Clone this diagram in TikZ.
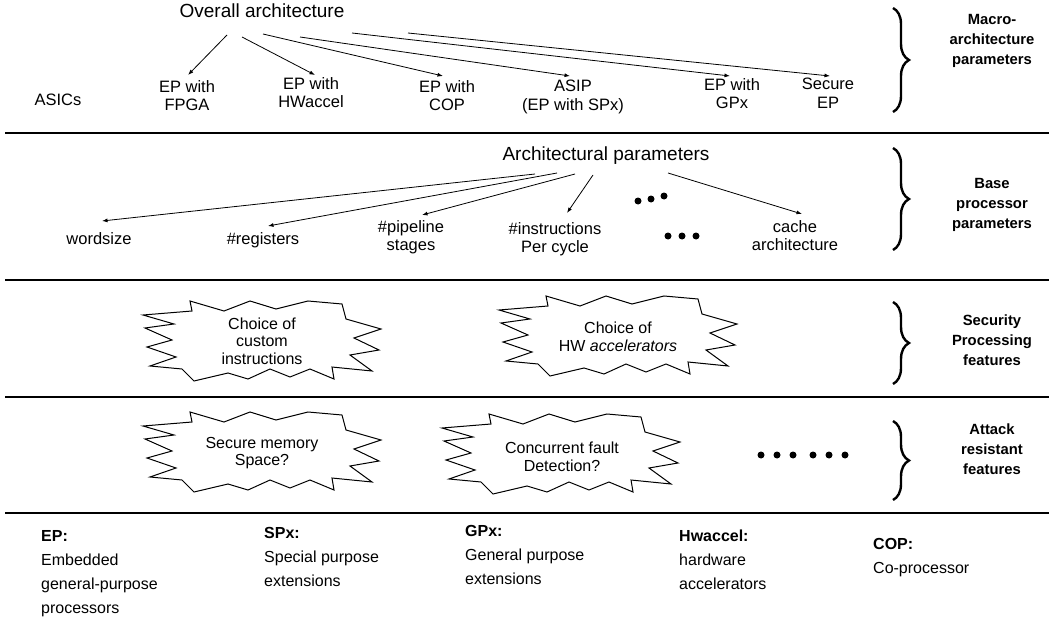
\documentclass[tikz,border=0pt]{standalone}
\usepackage{fontspec}
\setmainfont{Liberation Sans}
\usetikzlibrary{arrows.meta,calc,decorations.pathreplacing}
\begin{document}
\begin{tikzpicture}[x=1pt,y=-1pt,
 txt/.style={inner sep=0pt,align=center,anchor=north,font=\fontsize{16.5}{18.5}\selectfont},
 big/.style={inner sep=0pt,anchor=north,font=\fontsize{19}{22}\selectfont},
 lab/.style={inner sep=0pt,align=center,font=\fontsize{14.8}{20}\selectfont\bfseries},
 sttxt/.style={inner sep=0pt,align=center,font=\fontsize{16}{17.5}\selectfont},
 foot/.style={inner sep=0pt,align=left,anchor=north west,font=\fontsize{16}{24}\selectfont},
 arr/.style={line width=0.8pt,-{Latex[length=5.5pt,width=4pt]}},
 sepline/.style={line width=1.6pt},
 brc/.style={line width=2.4pt,decorate,decoration={brace,amplitude=16pt}},
 dotn/.style={circle,fill,inner sep=0pt,minimum size=7pt},
 burstpic/.pic={\draw[line width=1pt] (-119,-26) -- (-70,-30) -- (-72,-40) -- (-38,-30) -- (-12,-40) -- (14,-32) -- (46,-40) -- (80,-37) -- (84,-22) -- (119,-12) -- (92,-3) -- (117,9) -- (88,14) -- (110,30) -- (70,26) -- (72,38) -- (48,28) -- (28,36) -- (8,28) -- (-14,38) -- (-34,32) -- (-68,40) -- (-80,28) -- (-112,25) -- (-86,16) -- (-115,6) -- (-90,-1) -- (-117,-13) -- (-88,-17) -- cycle;}
]
\useasboundingbox (0,0) rectangle (1049,623);

% separators
\draw[sepline] (5,133) -- (1049,133);
\draw[sepline] (5,280) -- (1049,280);
\draw[sepline] (5,397) -- (1049,397);
\draw[sepline] (5,513) -- (1049,513);

% braces and labels
\draw[brc] (893,8) -- (893,112);
\draw[brc] (893,148) -- (893,250);
\draw[brc] (893,302) -- (893,384);
\draw[brc] (893,421) -- (893,500);
\node[lab] (l1) at (992,41) {Macro-\\architecture\\parameters};
\node[lab] (l2) at (992,205) {Base\\processor\\parameters};
\node[lab] (l3) at (992,340) {Security\\Processing\\features};
\node[lab] (l4) at (992,449) {Attack\\resistant\\features};

% row 1
\node[big] (oa) at (262,4) {Overall architecture};
\node[txt,anchor=center] (asics) at (58,100) {ASICs};
\node[txt] (fpga) at (187,80) {EP with\\FPGA};
\node[txt] (hw) at (311,77) {EP with\\HWaccel};
\node[txt] (cop) at (447,80) {EP with\\COP};
\node[txt] (asip) at (573,80) {ASIP\\(EP with SPx)};
\node[txt] (gpx) at (732,78) {EP with\\GPx};
\node[txt] (sec) at (828,78) {Secure\\EP};
\coordinate (o1) at (227,35);
\coordinate (o2) at (242,37);
\coordinate (o3) at (263,34);
\coordinate (o4) at (300,37);
\coordinate (o5) at (352,33);
\coordinate (o6) at (408,33);
\draw[arr] (o1) -- ($(fpga.north)+(1,-5)$);
\draw[arr] (o2) -- ($(hw.north)+(4,-2)$);
\draw[arr] (o3) -- ($(cop.north)+(-4,-4)$);
\draw[arr] (o4) -- ($(asip.north)+(-3,-4)$);
\draw[arr] (o5) -- ($(gpx.north)+(-2,-2)$);
\draw[arr] (o6) -- ($(sec.north)+(2,-2)$);

% row 2
\node[big] (ap) at (606,147) {Architectural parameters};
\node[txt] (ws) at (99,232) {wordsize};
\node[txt] (reg) at (263,232) {\#registers};
\node[txt] (pipe) at (411,220) {\#pipeline\\stages};
\node[txt] (ins) at (555,222) {\#instructions\\Per cycle};
\node[txt] (cache) at (795,220) {cache\\architecture};
\coordinate (a1) at (535,174);
\coordinate (a2) at (557,173);
\coordinate (a3) at (575,174);
\coordinate (a4) at (593,175);
\coordinate (a5) at (668,173);
\draw[arr] (a1) -- ($(ws.north)+(3,-11)$);
\draw[arr] (a2) -- ($(reg.north)+(5,-6)$);
\draw[arr] (a3) -- ($(pipe.north)+(11,-5)$);
\draw[arr] (a4) -- ($(ins.north)+(12,-9)$);
\draw[arr] (a5) -- ($(cache.north)+(7,-6)$);
\node[dotn] (d1) at (638,201) {};
\node[dotn] (d2) at (651,199) {};
\node[dotn] (d3) at (664,196) {};
\node[dotn] (d4) at (668,236) {};
\node[dotn] (d5) at (682,236) {};
\node[dotn] (d6) at (696,236) {};

% row 3
\pic at (262,341) {burstpic};
\node[sttxt] (s1) at (262,341) {Choice of\\custom\\instructions};
\pic at (618,336) {burstpic};
\node[sttxt] (s2) at (618,337) {Choice of\\HW \textit{accelerators}};

% row 4
\pic at (262,452) {burstpic};
\node[sttxt] (s3) at (262,453) {Secure memory\\Space?};
\pic at (561,454) {burstpic};
\node[sttxt] (s4) at (562,457) {Concurrent fault\\Detection?};
\node[dotn] (e1) at (761,455) {};
\node[dotn] (e2) at (777,455) {};
\node[dotn] (e3) at (793,455) {};
\node[dotn] (e4) at (813,455) {};
\node[dotn] (e5) at (829,455) {};
\node[dotn] (e6) at (845,455) {};

% footer
\node[foot] (f1) at (41,530) {\textbf{EP:}\\Embedded\\general-purpose\\processors};
\node[foot] (f2) at (264,527) {\textbf{SPx:}\\Special purpose\\extensions};
\node[foot] (f3) at (465,525) {\textbf{GPx:}\\General purpose\\extensions};
\node[foot] (f4) at (679,530) {\textbf{Hwaccel:}\\hardware\\accelerators};
\node[foot] (f5) at (873,538) {\textbf{COP:}\\Co-processor};
\end{tikzpicture}
\end{document}
